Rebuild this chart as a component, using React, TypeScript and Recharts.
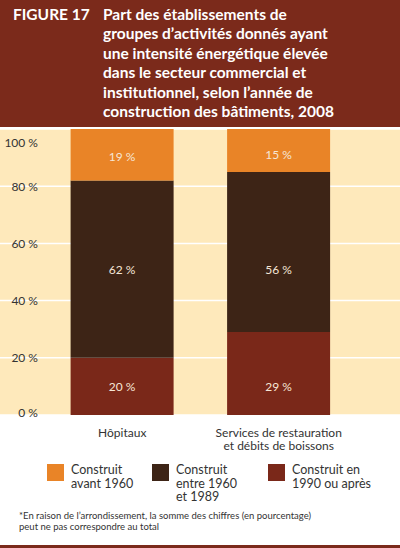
import { BarChart, Bar, XAxis, YAxis, CartesianGrid, LabelList } from 'recharts';

const categories = ['Hôpitaux', 'Services de restauration|et débits de boissons'];
const builtAfter1990 = [20, 29];
const builtBetween = [62, 56];
const builtBefore1960 = [19, 15];
const yTicks = [0, 20, 40, 60, 80, 100];

const titleLines = [
  'Part des établissements de',
  'groupes d’activités donnés ayant',
  'une intensité énergétique élevée',
  'dans le secteur commercial et',
  'institutionnel, selon l’année de',
  'construction des bâtiments, 2008',
];

// stacked bottom -> top
const series = [
  { key: 'recent', name: ['Construit en', '1990 ou après'], values: builtAfter1990, color: '#7A2819' },
  { key: 'middle', name: ['Construit', 'entre 1960', 'et 1989'], values: builtBetween, color: '#3D2416' },
  { key: 'old', name: ['Construit', 'avant 1960'], values: builtBefore1960, color: '#E98427' },
];
const legendOrder = [2, 1, 0];

const data = categories.map((c, i) => ({
  name: c,
  recent: builtAfter1990[i],
  middle: builtBetween[i],
  old: builtBefore1960[i],
}));

const FONT = 'Lato, "Open Sans", sans-serif';
const HEADER = '#7B2A1B';

// labels of a series sit at the same height in both bars (height of the first bar's segment)
function makeLabel(s: number) {
  return (props: any) => {
    const vb = props.viewBox ?? props;
    const { x, y, width, height } = vb;
    const { value, index } = props;
    const base = (i: number) => series.slice(0, s).reduce((acc, ser) => acc + ser.values[i], 0);
    const ppu = height / value;
    const bottom = y + height;
    const b0 = base(0);
    const top0 = Math.min(b0 + series[s].values[0], 100);
    const target = (b0 + top0) / 2;
    const ty = bottom - (target - base(index)) * ppu;
    return (
      <text x={x + width / 2} y={ty} textAnchor="middle" dominantBaseline="central"
        fill="#F6E6D6" fontSize={12} fontFamily={FONT}>
        {value} %
      </text>
    );
  };
}

function YTick(props: any) {
  const { y, payload } = props;
  const dy = payload.value === 100 ? 4 : payload.value === 0 ? -3 : 0;
  return (
    <text x={38} y={y + dy} textAnchor="end" dominantBaseline="central"
      fill="#333" fontSize={12} fontFamily={FONT}>
      {payload.value} %
    </text>
  );
}

function XTick(props: any) {
  const { x, y, payload } = props;
  const lines = String(payload.value).split('|');
  return (
    <text x={x} y={y} textAnchor="middle" fill="#333" fontSize={12} fontFamily={FONT}>
      {lines.map((l, i) => (
        <tspan key={i} x={x} dy={i === 0 ? 9 : 13.5} dominantBaseline="central">{l}</tspan>
      ))}
    </text>
  );
}

export default function App() {
  return (
    <div style={{ position: 'relative', width: 400, height: 548, background: '#fff', fontFamily: FONT, overflow: 'hidden' }}>
      <style>{'body{margin:0}'}</style>
      <div style={{ position: 'absolute', left: 0, top: 0, width: 400, height: 127, background: HEADER, color: '#fff' }}>
        <div style={{ position: 'absolute', left: 13, top: 5, fontSize: 15.5, fontWeight: 700, lineHeight: '19.4px' }}>
          FIGURE 17
        </div>
        <div style={{ position: 'absolute', left: 103, top: 5, fontSize: 15.5, fontWeight: 700, lineHeight: '19.4px', whiteSpace: 'nowrap' }}>
          {titleLines.map((l, i) => <div key={i}>{l}</div>)}
        </div>
      </div>

      <div style={{ position: 'absolute', left: 0, top: 129 }}>
        <BarChart width={400} height={340} data={data} margin={{ top: 0, right: 0, bottom: 0, left: 0 }}
          barCategoryGap="17%">
          <CartesianGrid vertical={false} stroke="#fff" strokeWidth={1.5} fill="#FEE9BB" />
          <XAxis dataKey="name" axisLine={false} tickLine={false} tick={<XTick />} height={54}
            interval={0} padding={{ left: 44, right: 43 }} />
          <YAxis domain={[0, 100]} ticks={yTicks} allowDataOverflow mirror width={40}
            axisLine={false} tickLine={false} tick={<YTick />} />
          {series.map((s, i) => (
            <Bar key={s.key} dataKey={s.key} stackId="a" fill={s.color} isAnimationActive={false}>
              <LabelList dataKey={s.key} content={makeLabel(i)} />
            </Bar>
          ))}
        </BarChart>
      </div>

      {legendOrder.map((si, k) => {
        const s = series[si];
        const left = [47, 152, 268][k];
        return (
          <div key={s.key} style={{ position: 'absolute', left, top: 463, display: 'flex' }}>
            <div style={{ width: 17, height: 17, background: s.color, marginTop: 1 }} />
            <div style={{ marginLeft: 7, fontSize: 12.5, lineHeight: '13.7px', color: '#333' }}>
              {s.name.map((l, i) => <div key={i}>{l}</div>)}
            </div>
          </div>
        );
      })}

      <div style={{ position: 'absolute', left: 19, top: 511, fontSize: 9.5, lineHeight: '10.6px', color: '#333', whiteSpace: 'nowrap' }}>
        <div>*En raison de l’arrondissement, la somme des chiffres (en pourcentage)</div>
        <div>peut ne pas correspondre au total</div>
      </div>

      <div style={{ position: 'absolute', left: 0, top: 545, width: 400, height: 3, background: HEADER }} />
    </div>
  );
}
